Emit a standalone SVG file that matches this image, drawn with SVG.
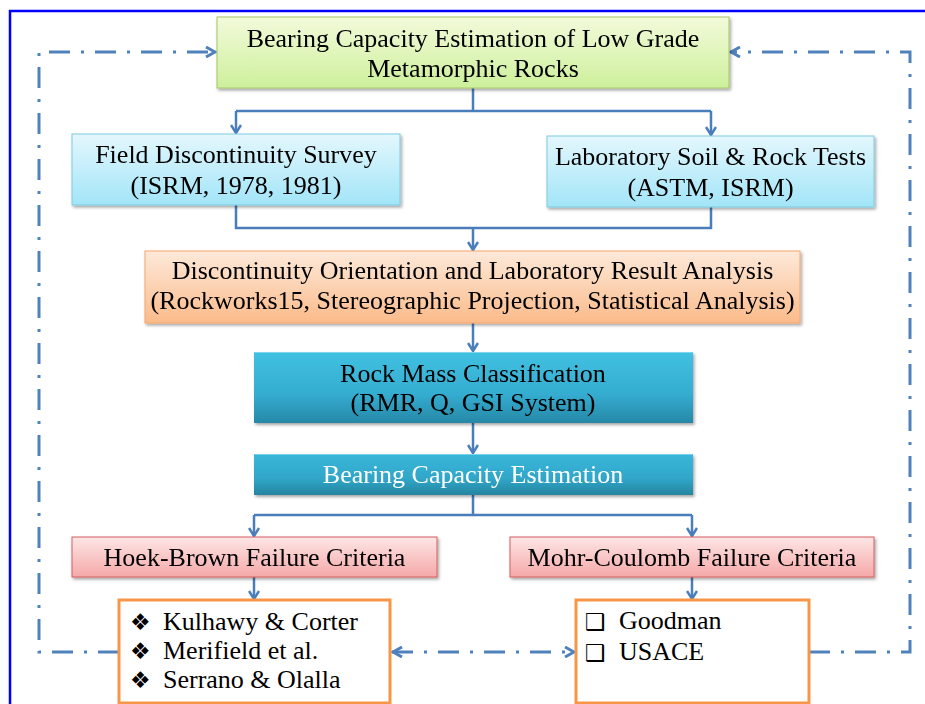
<svg xmlns="http://www.w3.org/2000/svg" width="925" height="704" viewBox="0 0 925 704">
<defs>
<style>
.t{font-family:"Liberation Serif","Times New Roman",serif;font-size:26px;fill:#000;text-anchor:middle}
.w{fill:#fff}
.l{text-anchor:start}
.b{font-family:"DejaVu Sans",sans-serif;font-size:23px;fill:#000}
.c{fill:none;stroke:#4a7ebb;stroke-width:2.5}
.d{fill:none;stroke:#4f81bd;stroke-width:3;stroke-dasharray:21 11 3 11}
.box{filter:url(#sh)}
</style>
<filter id="sh" x="-10%" y="-20%" width="120%" height="150%">
<feDropShadow dx="1.5" dy="2" stdDeviation="1.5" flood-color="#000" flood-opacity="0.35"/>
</filter>
<linearGradient id="gG" x1="0" y1="0" x2="0" y2="1"><stop offset="0" stop-color="#f3fadb"/><stop offset="1" stop-color="#cdf09b"/></linearGradient>
<linearGradient id="gB" x1="0" y1="0" x2="0" y2="1"><stop offset="0" stop-color="#e4f7fd"/><stop offset="1" stop-color="#a2e5f8"/></linearGradient>
<linearGradient id="gO" x1="0" y1="0" x2="0" y2="1"><stop offset="0" stop-color="#fde9da"/><stop offset="1" stop-color="#fbbb8a"/></linearGradient>
<linearGradient id="gR" x1="0" y1="0" x2="0" y2="1"><stop offset="0" stop-color="#fde6e6"/><stop offset="1" stop-color="#f6a8a8"/></linearGradient>
<linearGradient id="gT" x1="0" y1="0" x2="0" y2="1"><stop offset="0" stop-color="#41c1e1"/><stop offset="0.6" stop-color="#34acd0"/><stop offset="1" stop-color="#2688a6"/></linearGradient>
<linearGradient id="gT2" x1="0" y1="0" x2="0" y2="1"><stop offset="0" stop-color="#39b7da"/><stop offset="0.6" stop-color="#30a6c9"/><stop offset="1" stop-color="#25859f"/></linearGradient>
<marker id="a" viewBox="0 0 10 12" refX="9" refY="6" markerWidth="10" markerHeight="12" markerUnits="userSpaceOnUse" orient="auto-start-reverse">
<path d="M1,1 L9,6 L1,11" fill="none" stroke="#4a7ebb" stroke-width="2.5"/>
</marker>
<marker id="ad" viewBox="0 0 12 12" refX="11" refY="6" markerWidth="12" markerHeight="12" markerUnits="userSpaceOnUse" orient="auto-start-reverse">
<path d="M1,1 L10,6 L1,11" fill="none" stroke="#4f81bd" stroke-width="3"/>
</marker>
</defs>
<rect width="925" height="704" fill="#fff"/>
<rect x="10" y="11" width="1000" height="1000" fill="none" stroke="#0000ff" stroke-width="2.5"/>

<g id="connectors">
<path class="c" d="M473,88 V111 M236,111 H711" />
<path class="c" d="M236,111 V133" marker-end="url(#a)"/>
<path class="c" d="M711,111 V135" marker-end="url(#a)"/>
<path class="c" d="M236,205 V228 H711 V207"/>
<path class="c" d="M473,228 V250" marker-end="url(#a)"/>
<path class="c" d="M473,323 V351" marker-end="url(#a)"/>
<path class="c" d="M473,423 V453" marker-end="url(#a)"/>
<path class="c" d="M473,495 V515 M254,515 H692"/>
<path class="c" d="M254,515 V536" marker-end="url(#a)"/>
<path class="c" d="M692,515 V536" marker-end="url(#a)"/>
<path class="c" d="M254,577 V599" marker-end="url(#a)"/>
<path class="c" d="M692,577 V599" marker-end="url(#a)"/>
<path class="d" d="M119,652 H39 V52 H216" marker-end="url(#ad)"/>
<path class="d" d="M809,652 H910 V52 H730" marker-end="url(#ad)"/>
<path class="d" d="M392,652 H575" marker-start="url(#ad)" marker-end="url(#ad)"/>
</g>

<g id="n1" class="box">
<rect x="217" y="17" width="512" height="71" fill="url(#gG)" stroke="#a6c46a" stroke-width="1"/>
<text class="t" x="473" y="47">Bearing Capacity Estimation of Low Grade</text>
<text class="t" x="473" y="77">Metamorphic Rocks</text>
</g>
<g id="n2" class="box">
<rect x="72" y="134" width="328" height="71" fill="url(#gB)" stroke="#7ccbe0" stroke-width="1"/>
<text class="t" x="236" y="163">Field Discontinuity Survey</text>
<text class="t" x="236" y="194">(ISRM, 1978, 1981)</text>
</g>
<g id="n3" class="box">
<rect x="547" y="136" width="327" height="71" fill="url(#gB)" stroke="#7ccbe0" stroke-width="1"/>
<text class="t" x="710.5" y="165">Laboratory Soil &amp; Rock Tests</text>
<text class="t" x="710.5" y="196">(ASTM, ISRM)</text>
</g>
<g id="n4" class="box">
<rect x="145" y="251" width="655" height="72" fill="url(#gO)" stroke="#f5a66c" stroke-width="1"/>
<text class="t" x="472.5" y="279">Discontinuity Orientation and Laboratory Result Analysis</text>
<text class="t" x="472.5" y="309">(Rockworks15, Stereographic Projection, Statistical Analysis)</text>
</g>
<g id="n5" class="box">
<rect x="254" y="352" width="439" height="71" fill="url(#gT)"/>
<path d="M254.5,352.5 H692.5" stroke="#7fd6ee" stroke-width="1"/>
<text class="t" x="473" y="382">Rock Mass Classification</text>
<text class="t" x="473" y="411">(RMR, Q, GSI System)</text>
</g>
<g id="n6" class="box">
<rect x="254" y="454" width="439" height="41" fill="url(#gT2)"/>
<path d="M254.5,454.5 H692.5" stroke="#7ad3ec" stroke-width="1"/>
<text class="t w" x="473" y="483">Bearing Capacity Estimation</text>
</g>
<g id="n7" class="box">
<rect x="72" y="537" width="365" height="40" fill="url(#gR)" stroke="#d65e5e" stroke-width="1"/>
<text class="t" x="254.5" y="566">Hoek-Brown Failure Criteria</text>
</g>
<g id="n8" class="box">
<rect x="510" y="537" width="364" height="40" fill="url(#gR)" stroke="#d65e5e" stroke-width="1"/>
<text class="t" x="692" y="566">Mohr-Coulomb Failure Criteria</text>
</g>
<g id="n9">
<rect x="119" y="600" width="271" height="103" fill="#fff" stroke="#f79646" stroke-width="3"/>
<text class="b" x="130" y="630">❖</text>
<text class="b" x="130" y="659">❖</text>
<text class="b" x="130" y="688">❖</text>
<text class="t l" x="163" y="630">Kulhawy &amp; Corter</text>
<text class="t l" x="163" y="659">Merifield et al.</text>
<text class="t l" x="163" y="688">Serrano &amp; Olalla</text>
</g>
<g id="n10">
<rect x="576" y="600" width="233" height="103" fill="#fff" stroke="#f79646" stroke-width="3"/>
<text class="b" x="585" y="630">❑</text>
<text class="b" x="585" y="661">❑</text>
<text class="t l" x="619" y="629">Goodman</text>
<text class="t l" x="619" y="660">USACE</text>
</g>
</svg>
